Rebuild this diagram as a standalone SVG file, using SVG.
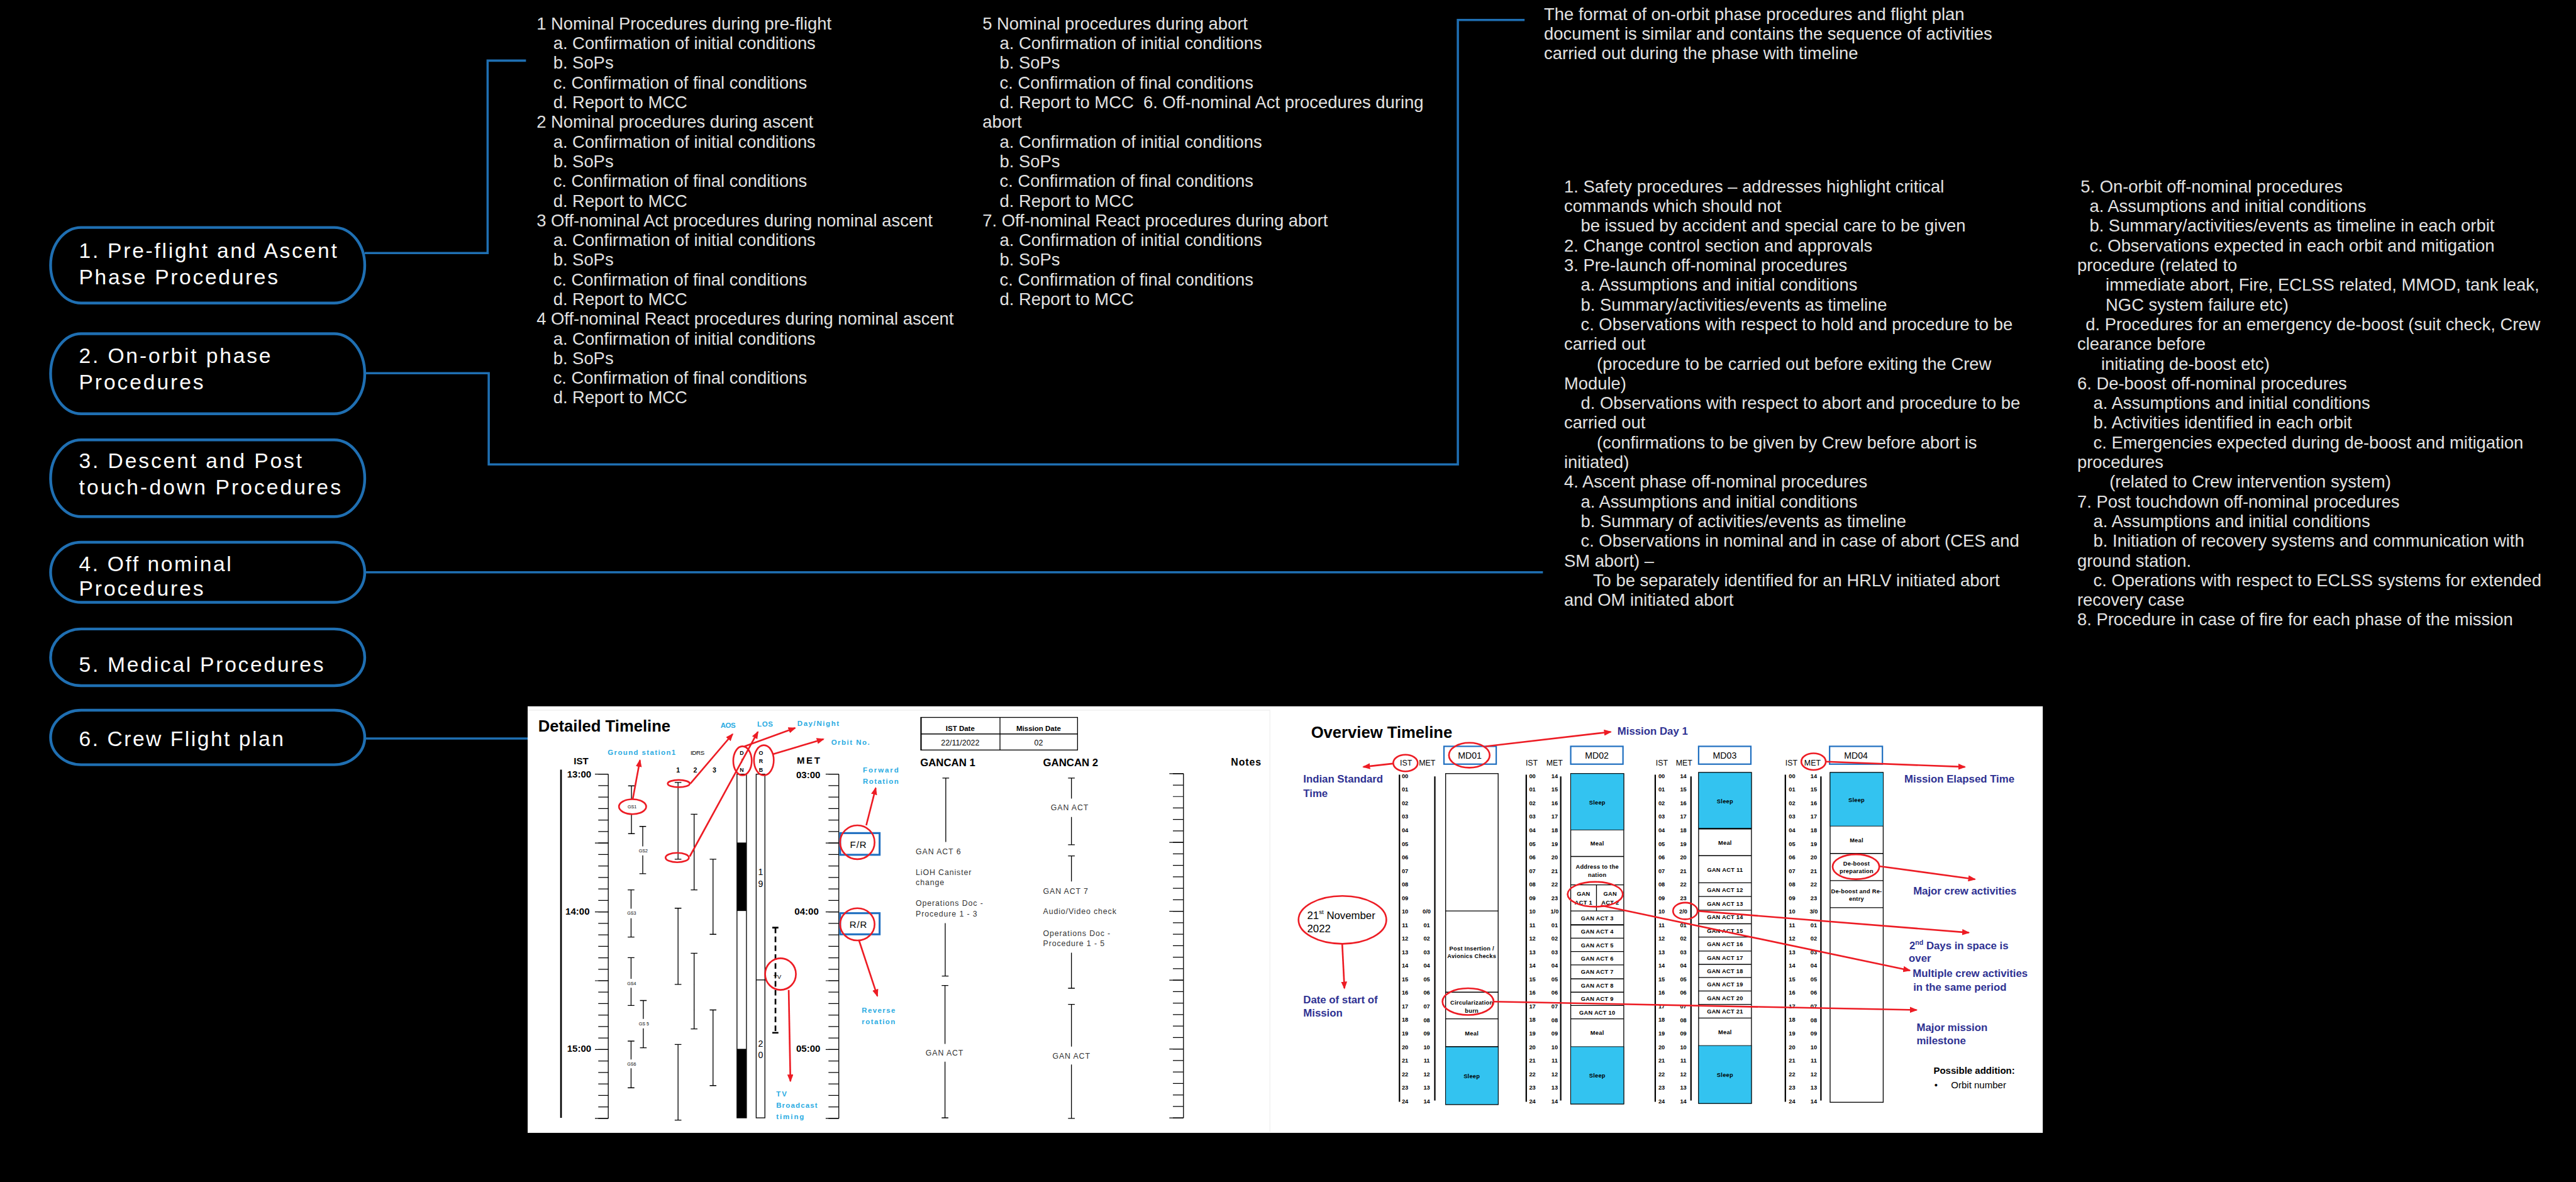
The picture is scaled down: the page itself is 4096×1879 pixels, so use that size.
<svg xmlns="http://www.w3.org/2000/svg" xmlns:xlink="http://www.w3.org/1999/xlink" width="4096" height="1879" viewBox="0 0 4096 1879">
<style>
.box{fill:none;stroke:#1f6fb2;stroke-width:5}
.bl{font-family:"Liberation Sans",Arial,sans-serif;font-size:38px;fill:#ffffff}
.conn{fill:none;stroke:#1f6fb2;stroke-width:4}
.tx{font-family:"Liberation Sans",Arial,sans-serif;font-size:31px;fill:#e2e2e2}
.k{fill:none;stroke:#000;stroke-width:1.5}
.r{fill:none;stroke:#ed1c24;stroke-width:3}
.ra{fill:none;stroke:#ed1c24;stroke-width:3;marker-end:url(#ah)}
.lb{font-family:"Liberation Sans",Arial,sans-serif;font-weight:bold;font-size:13px;fill:#29abe2}
.nv{font-family:"Liberation Sans",Arial,sans-serif;font-weight:bold;font-size:19px;fill:#2e3192}
.hb{font-family:"Liberation Sans",Arial,sans-serif;font-weight:bold;fill:#000}
.hn{font-family:"Liberation Sans",Arial,sans-serif;fill:#000}
.gt{font-family:"Liberation Sans",Arial,sans-serif;font-size:14px;fill:#333;letter-spacing:1px}
.hr{font-family:"Liberation Sans",Arial,sans-serif;font-weight:bold;font-size:10.5px;text-anchor:middle;fill:#000}
.cell{font-family:"Liberation Sans",Arial,sans-serif;font-weight:bold;font-size:10.5px;text-anchor:middle;letter-spacing:0.3px;fill:#000}
.sl{fill:#33c3f0;stroke:#000;stroke-width:1}
.col{fill:#fff;stroke:#000;stroke-width:1.5}
.mdh{fill:#fff;stroke:#1f6fc0;stroke-width:2.5}
.ax{stroke:#000;stroke-width:2.5}
</style>
<defs>
<marker id="ah" viewBox="0 0 14 11" refX="12" refY="5.5" markerWidth="14" markerHeight="11" markerUnits="userSpaceOnUse" orient="auto"><path d="M0,0L14,5.5L0,11z" fill="#ed1c24"/></marker>
<text id="ist" class="hr"><tspan x="0" y="1399">00</tspan><tspan x="0" dy="24.36">01</tspan><tspan x="0" dy="24.36">02</tspan><tspan x="0" dy="24.36">03</tspan><tspan x="0" dy="24.36">04</tspan><tspan x="0" dy="24.36">05</tspan><tspan x="0" dy="24.36">06</tspan><tspan x="0" dy="24.36">07</tspan><tspan x="0" dy="24.36">08</tspan><tspan x="0" dy="24.36">09</tspan><tspan x="0" dy="24.36">10</tspan><tspan x="0" dy="24.36">11</tspan><tspan x="0" dy="24.36">12</tspan><tspan x="0" dy="24.36">13</tspan><tspan x="0" dy="24.36">14</tspan><tspan x="0" dy="24.36">15</tspan><tspan x="0" dy="24.36">16</tspan><tspan x="0" dy="24.36">17</tspan><tspan x="0" dy="24.36">18</tspan><tspan x="0" dy="24.36">19</tspan><tspan x="0" dy="24.36">20</tspan><tspan x="0" dy="24.36">21</tspan><tspan x="0" dy="24.36">22</tspan><tspan x="0" dy="24.36">23</tspan><tspan x="0" dy="24.36">24</tspan></text>
<text id="metTop" class="hr"><tspan x="0" y="1399">14</tspan><tspan x="0" dy="24.36">15</tspan><tspan x="0" dy="24.36">16</tspan><tspan x="0" dy="24.36">17</tspan><tspan x="0" dy="24.36">18</tspan><tspan x="0" dy="24.36">19</tspan><tspan x="0" dy="24.36">20</tspan><tspan x="0" dy="24.36">21</tspan><tspan x="0" dy="24.36">22</tspan><tspan x="0" dy="24.36">23</tspan></text>
<text id="metBot" class="hr"><tspan x="0" y="1667">01</tspan><tspan x="0" dy="24.36">02</tspan><tspan x="0" dy="24.36">03</tspan><tspan x="0" dy="24.36">04</tspan><tspan x="0" dy="24.36">05</tspan><tspan x="0" dy="24.36">06</tspan><tspan x="0" dy="24.36">07</tspan><tspan x="0" dy="24.36">08</tspan><tspan x="0" dy="24.36">09</tspan><tspan x="0" dy="24.36">10</tspan><tspan x="0" dy="24.36">11</tspan><tspan x="0" dy="24.36">12</tspan><tspan x="0" dy="24.36">13</tspan><tspan x="0" dy="24.36">14</tspan></text>
</defs>
<rect x="0" y="0" width="4096" height="1879" fill="#000"/>
<g transform="scale(0.88409)">

<!-- connectors -->
<g id="connectors">
<path class="conn" d="M656 455H877V109H946"/>
<path class="conn" d="M656 671H879V835H2622V36H2742"/>
<path class="conn" d="M656 1029H2775"/>
<path class="conn" d="M656 1328H949"/>
</g>

<!-- nodes -->
<g id="node-1">
<rect class="box" x="91" y="409" width="565" height="136" rx="55" ry="68"/>
<text class="bl" x="142" y="464" textLength="464" lengthAdjust="spacing">1. Pre-flight and Ascent</text>
<text class="bl" x="142" y="511" textLength="358" lengthAdjust="spacing">Phase Procedures</text>
</g>
<g id="node-2">
<rect class="box" x="91" y="600" width="565" height="144" rx="55" ry="72"/>
<text class="bl" x="142" y="653" textLength="345" lengthAdjust="spacing">2. On-orbit phase</text>
<text class="bl" x="142" y="700" textLength="224" lengthAdjust="spacing">Procedures</text>
</g>
<g id="node-3">
<rect class="box" x="91" y="791" width="565" height="138" rx="55" ry="69"/>
<text class="bl" x="142" y="842" textLength="401" lengthAdjust="spacing">3. Descent and Post</text>
<text class="bl" x="142" y="889" textLength="471" lengthAdjust="spacing">touch-down Procedures</text>
</g>
<g id="node-4">
<rect class="box" x="91" y="975" width="565" height="108" rx="55" ry="54"/>
<text class="bl" x="142" y="1027" textLength="274" lengthAdjust="spacing">4. Off nominal</text>
<text class="bl" x="142" y="1071" textLength="224" lengthAdjust="spacing">Procedures</text>
</g>
<g id="node-5">
<rect class="box" x="91" y="1131" width="565" height="102" rx="55" ry="51"/>
<text class="bl" x="142" y="1208" textLength="440" lengthAdjust="spacing">5. Medical Procedures</text>
</g>
<g id="node-6">
<rect class="box" x="91" y="1277" width="565" height="98" rx="55" ry="49"/>
<text class="bl" x="142" y="1341" textLength="368" lengthAdjust="spacing">6. Crew Flight plan</text>
</g>

<g id="text-ascent-1">
<text class="tx"><tspan x="965" y="53">1 Nominal Procedures during pre-flight</tspan><tspan x="995" dy="35.4">a. Confirmation of initial conditions</tspan><tspan x="995" dy="35.4">b. SoPs</tspan><tspan x="995" dy="35.4">c. Confirmation of final conditions</tspan><tspan x="995" dy="35.4">d. Report to MCC</tspan><tspan x="965" dy="35.4">2 Nominal procedures during ascent</tspan><tspan x="995" dy="35.4">a. Confirmation of initial conditions</tspan><tspan x="995" dy="35.4">b. SoPs</tspan><tspan x="995" dy="35.4">c. Confirmation of final conditions</tspan><tspan x="995" dy="35.4">d. Report to MCC</tspan><tspan x="965" dy="35.4">3 Off-nominal Act procedures during nominal ascent</tspan><tspan x="995" dy="35.4">a. Confirmation of initial conditions</tspan><tspan x="995" dy="35.4">b. SoPs</tspan><tspan x="995" dy="35.4">c. Confirmation of final conditions</tspan><tspan x="995" dy="35.4">d. Report to MCC</tspan><tspan x="965" dy="35.4">4 Off-nominal React procedures during nominal ascent</tspan><tspan x="995" dy="35.4">a. Confirmation of initial conditions</tspan><tspan x="995" dy="35.4">b. SoPs</tspan><tspan x="995" dy="35.4">c. Confirmation of final conditions</tspan><tspan x="995" dy="35.4">d. Report to MCC</tspan></text>
</g>
<g id="text-ascent-2">
<text class="tx"><tspan x="1767" y="53">5 Nominal procedures during abort</tspan><tspan x="1798" dy="35.4">a. Confirmation of initial conditions</tspan><tspan x="1798" dy="35.4">b. SoPs</tspan><tspan x="1798" dy="35.4">c. Confirmation of final conditions</tspan><tspan x="1798" dy="35.4">d. Report to MCC&#160; 6. Off-nominal Act procedures during</tspan><tspan x="1767" dy="35.4">abort</tspan><tspan x="1798" dy="35.4">a. Confirmation of initial conditions</tspan><tspan x="1798" dy="35.4">b. SoPs</tspan><tspan x="1798" dy="35.4">c. Confirmation of final conditions</tspan><tspan x="1798" dy="35.4">d. Report to MCC</tspan><tspan x="1767" dy="35.4">7. Off-nominal React procedures during abort</tspan><tspan x="1798" dy="35.4">a. Confirmation of initial conditions</tspan><tspan x="1798" dy="35.4">b. SoPs</tspan><tspan x="1798" dy="35.4">c. Confirmation of final conditions</tspan><tspan x="1798" dy="35.4">d. Report to MCC</tspan></text>
</g>
<g id="text-onorbit">
<text class="tx"><tspan x="2777" y="36">The format of on-orbit phase procedures and flight plan</tspan><tspan x="2777" dy="35.4">document is similar and contains the sequence of activities</tspan><tspan x="2777" dy="35.4">carried out during the phase with timeline</tspan></text>
</g>
<g id="text-offnominal-1">
<text class="tx"><tspan x="2813" y="346">1. Safety procedures – addresses highlight critical</tspan><tspan x="2813" dy="35.4">commands which should not</tspan><tspan x="2843" dy="35.4">be issued by accident and special care to be given</tspan><tspan x="2813" dy="35.4">2. Change control section and approvals</tspan><tspan x="2813" dy="35.4">3. Pre-launch off-nominal procedures</tspan><tspan x="2843" dy="35.4">a. Assumptions and initial conditions</tspan><tspan x="2843" dy="35.4">b. Summary/activities/events as timeline</tspan><tspan x="2843" dy="35.4">c. Observations with respect to hold and procedure to be</tspan><tspan x="2813" dy="35.4">carried out</tspan><tspan x="2872" dy="35.4">(procedure to be carried out before exiting the Crew</tspan><tspan x="2813" dy="35.4">Module)</tspan><tspan x="2843" dy="35.4">d. Observations with respect to abort and procedure to be</tspan><tspan x="2813" dy="35.4">carried out</tspan><tspan x="2872" dy="35.4">(confirmations to be given by Crew before abort is</tspan><tspan x="2813" dy="35.4">initiated)</tspan><tspan x="2813" dy="35.4">4. Ascent phase off-nominal procedures</tspan><tspan x="2843" dy="35.4">a. Assumptions and initial conditions</tspan><tspan x="2843" dy="35.4">b. Summary of activities/events as timeline</tspan><tspan x="2843" dy="35.4">c. Observations in nominal and in case of abort (CES and</tspan><tspan x="2813" dy="35.4">SM abort) –</tspan><tspan x="2865" dy="35.4">To be separately identified for an HRLV initiated abort</tspan><tspan x="2813" dy="35.4">and OM initiated abort</tspan></text>
</g>
<g id="text-offnominal-2">
<text class="tx"><tspan x="3742" y="346">5. On-orbit off-nominal procedures</tspan><tspan x="3758" dy="35.4">a. Assumptions and initial conditions</tspan><tspan x="3758" dy="35.4">b. Summary/activities/events as timeline in each orbit</tspan><tspan x="3758" dy="35.4">c. Observations expected in each orbit and mitigation</tspan><tspan x="3736" dy="35.4">procedure (related to</tspan><tspan x="3787" dy="35.4">immediate abort, Fire, ECLSS related, MMOD, tank leak,</tspan><tspan x="3787" dy="35.4">NGC system failure etc)</tspan><tspan x="3751" dy="35.4">d. Procedures for an emergency de-boost (suit check, Crew</tspan><tspan x="3736" dy="35.4">clearance before</tspan><tspan x="3779" dy="35.4">initiating de-boost etc)</tspan><tspan x="3736" dy="35.4">6. De-boost off-nominal procedures</tspan><tspan x="3765" dy="35.4">a. Assumptions and initial conditions</tspan><tspan x="3765" dy="35.4">b. Activities identified in each orbit</tspan><tspan x="3765" dy="35.4">c. Emergencies expected during de-boost and mitigation</tspan><tspan x="3736" dy="35.4">procedures</tspan><tspan x="3794" dy="35.4">(related to Crew intervention system)</tspan><tspan x="3736" dy="35.4">7. Post touchdown off-nominal procedures</tspan><tspan x="3765" dy="35.4">a. Assumptions and initial conditions</tspan><tspan x="3765" dy="35.4">b. Initiation of recovery systems and communication with</tspan><tspan x="3736" dy="35.4">ground station.</tspan><tspan x="3765" dy="35.4">c. Operations with respect to ECLSS systems for extended</tspan><tspan x="3736" dy="35.4">recovery case</tspan><tspan x="3736" dy="35.4">8. Procedure in case of fire for each phase of the mission</tspan></text>
</g>

<!-- flight plan picture -->
<g id="flight-plan">
<rect x="949" y="1270" width="2725" height="767" fill="#fff"/>
<path d="M949 1277H2284V2037" fill="none" stroke="#f0f0f0" stroke-width="1.5"/>

<!-- detailed timeline -->
<text class="hb" x="968" y="1315" font-size="29">Detailed Timeline</text>
<text class="hb" x="1032" y="1374" font-size="17">IST</text>
<text class="hb" x="1433" y="1373" font-size="17" textLength="42">MET</text>
<text class="hb" font-size="17"><tspan x="1020" y="1398">13:00</tspan><tspan x="1017" y="1645">14:00</tspan><tspan x="1020" y="1891">15:00</tspan><tspan x="1432" y="1399">03:00</tspan><tspan x="1429" y="1645">04:00</tspan><tspan x="1432" y="1891">05:00</tspan></text>
<line x1="1009" y1="1384" x2="1009" y2="2010" stroke="#000" stroke-width="3"/>
<line x1="1094" y1="1392" x2="1094" y2="2011" class="k"/>
<line x1="1085" y1="1391.3" x2="1085" y2="2012" stroke="#000" stroke-width="18" stroke-dasharray="1.4 19.233"/>
<line x1="1082" y1="1391.3" x2="1082" y2="2012" stroke="#000" stroke-width="24" stroke-dasharray="1.4 122.4"/>
<line x1="1508.6" y1="1392" x2="1508.6" y2="2011" class="k"/>
<line x1="1499.3" y1="1391.3" x2="1499.3" y2="2012" stroke="#000" stroke-width="18.6" stroke-dasharray="1.4 19.233"/>
<line x1="1496.8" y1="1391.3" x2="1496.8" y2="2012" stroke="#000" stroke-width="23.6" stroke-dasharray="1.4 122.4"/>
<line x1="2128.5" y1="1391" x2="2128.5" y2="2010" class="k"/>
<line x1="2119" y1="1390.3" x2="2119" y2="2011" stroke="#000" stroke-width="19" stroke-dasharray="1.4 19.233"/>
<line x1="2115.8" y1="1390.3" x2="2115.8" y2="2011" stroke="#000" stroke-width="25.5" stroke-dasharray="1.4 122.4"/>

<text class="hn" x="1242" y="1357" font-size="11" textLength="25">IDRS</text>
<text class="hb" font-size="12" text-anchor="middle"><tspan x="1219.5" y="1389">1</tspan><tspan x="1250.4" y="1389">2</tspan><tspan x="1284.8" y="1389">3</tspan></text>
<path class="k" d="M1129.7 1413h12M1135.7 1413V1437M1135.7 1464V1499M1129.7 1499h12M1150 1486h12M1156 1486V1522M1156 1538V1571M1150 1571h12M1129 1600h12M1135 1600V1634M1135 1651V1685M1129 1685h12M1129 1722h12M1135 1722V1760M1135 1776V1808M1129 1808h12M1151 1799h12M1157 1799V1832M1157 1849V1884M1151 1884h12M1129 1872h12M1135 1872V1905M1135 1921V1956M1129 1956h12"/>
<text class="hn" font-size="8" text-anchor="middle"><tspan x="1137" y="1453.5">GS1</tspan><tspan x="1157" y="1533">GS2</tspan><tspan x="1136" y="1645">GS3</tspan><tspan x="1136" y="1771">GS4</tspan><tspan x="1158" y="1843.5">GS 5</tspan><tspan x="1136" y="1916">GS6</tspan></text>
<path class="k" d="M1213.5 1407h12M1219.5 1407V1545M1213.5 1545h12M1213.5 1633h12M1219.5 1633V1770M1213.5 1770h12M1213.5 1878h12M1219.5 1878V2014M1213.5 2014h12M1242.4 1464h12M1248.4 1464V1600M1242.4 1600h12M1242.4 1714h12M1248.4 1714V1850M1242.4 1850h12M1276.4 1545h12M1282.4 1545V1680M1276.4 1680h12M1276.4 1816h12M1282.4 1816V1952M1276.4 1952h12"/>

<rect x="1325.5" y="1392" width="17" height="618" class="col"/>
<rect x="1325.5" y="1515" width="17" height="123" fill="#000"/>
<rect x="1325.5" y="1886" width="17" height="124" fill="#000"/>
<text class="hb" font-size="10" text-anchor="middle"><tspan x="1334" y="1357">D</tspan><tspan x="1334" y="1372">/</tspan><tspan x="1334" y="1388">N</tspan><tspan x="1368.6" y="1357">O</tspan><tspan x="1368.6" y="1372">R</tspan><tspan x="1368.6" y="1388">B</tspan></text>
<rect x="1360" y="1392" width="15.7" height="618" class="col"/>
<line x1="1360" y1="1762" x2="1375.7" y2="1762" class="k"/>
<text class="hn" font-size="16" text-anchor="middle"><tspan x="1368" y="1573">1</tspan><tspan x="1368" y="1595">9</tspan><tspan x="1368" y="1882">2</tspan><tspan x="1368" y="1903">0</tspan></text>
<path d="M1389 1668h11M1389 1857h11" stroke="#000" stroke-width="3"/>
<line x1="1394.7" y1="1668" x2="1394.7" y2="1857" stroke="#000" stroke-width="3" stroke-dasharray="10 6"/>
<text class="hn" x="1398" y="1760" font-size="11" text-anchor="middle">TV</text>

<rect x="1511" y="1498" width="71" height="39" fill="none" stroke="#1f6fc0" stroke-width="3.5"/>
<rect x="1511" y="1642" width="71" height="38" fill="none" stroke="#1f6fc0" stroke-width="3.5"/>
<text class="hn" font-size="17" text-anchor="middle" letter-spacing="1"><tspan x="1544" y="1525">F/R</tspan><tspan x="1544" y="1668">R/R</tspan></text>

<text class="lb" x="1093" y="1357" textLength="122">Ground station1</text>
<text class="lb" x="1296" y="1309" textLength="27">AOS</text>
<text class="lb" x="1362" y="1307" textLength="28">LOS</text>
<text class="lb" x="1434" y="1305" textLength="75">Day/Night</text>
<text class="lb" x="1495" y="1339" textLength="69">Orbit No.</text>
<text class="lb" x="1552" y="1389" textLength="64">Forward</text>
<text class="lb" x="1552" y="1409" textLength="64">Rotation</text>
<text class="lb" x="1550" y="1821" textLength="60">Reverse</text>
<text class="lb" x="1550" y="1841" textLength="60">rotation</text>
<text class="lb" x="1396" y="1972" textLength="19">TV</text>
<text class="lb" x="1396" y="1992" textLength="74">Broadcast</text>
<text class="lb" x="1396" y="2012" textLength="50">timing</text>

<rect x="1656" y="1290" width="282" height="58.6" class="k"/>
<path class="k" d="M1798.5 1290V1348.6M1656 1319.7H1938M1657 1290V1349"/>
<text class="hb" font-size="13" text-anchor="middle"><tspan x="1727" y="1314">IST  Date</tspan><tspan x="1868" y="1314">Mission Date</tspan></text>
<text class="hn" font-size="14" text-anchor="middle" fill="#222"><tspan x="1727" y="1340">22/11/2022</tspan><tspan x="1868" y="1340">02</tspan></text>
<text class="hb" font-size="19"><tspan x="1655" y="1378">GANCAN  1</tspan><tspan x="1876" y="1378">GANCAN  2</tspan></text>
<text class="hb" x="2214" y="1377" font-size="18" letter-spacing="1">Notes</text>
<path class="k" d="M1695 1399h12M1701 1399V1514M1700 1660V1755M1694 1755h12M1693.6 1772h12M1699.6 1772V1877M1699.6 1909V2010M1693.6 2010h12M1921 1399h12M1927 1399V1436M1927 1469V1519M1921 1519h12M1921 1539h12M1927 1539V1585M1927 1713V1777M1921 1777h12M1921 1806h12M1927 1806V1882M1927 1914V2011M1921 2011h12"/>
<text class="gt"><tspan x="1647" y="1536">GAN ACT  6</tspan><tspan x="1647" y="1573">LiOH Canister</tspan><tspan x="1647" y="1592">change</tspan><tspan x="1647" y="1629">Operations Doc -</tspan><tspan x="1647" y="1648">Procedure 1 - 3</tspan><tspan x="1876" y="1607">GAN ACT  7</tspan><tspan x="1876" y="1644">Audio/Video check</tspan><tspan x="1876" y="1683">Operations Doc  -</tspan><tspan x="1876" y="1701">Procedure  1 - 5</tspan></text>
<text class="gt" text-anchor="middle"><tspan x="1699" y="1898">GAN ACT</tspan><tspan x="1924" y="1457">GAN ACT</tspan><tspan x="1927" y="1904">GAN ACT</tspan></text>

<!-- overview timeline -->
<text class="hb" x="2358" y="1327" font-size="29">Overview Timeline</text>
<text class="hn" font-size="14"><tspan x="2518" y="1377">IST</tspan><tspan x="2552" y="1377">MET</tspan><tspan x="2744" y="1377">IST</tspan><tspan x="2781" y="1377">MET</tspan><tspan x="2978" y="1377">IST</tspan><tspan x="3014" y="1377">MET</tspan><tspan x="3211" y="1377">IST</tspan><tspan x="3245" y="1377">MET</tspan></text>
<path class="ax" d="M2517 1393V1981M2580.6 1396V1979M2745 1393V1981M2807 1396V1979M2977 1393V1981M3041.3 1396V1979M3211 1393V1981M3275 1396V1979"/>
<use xlink:href="#ist" x="2527"/><use xlink:href="#metBot" x="2566"/>
<use xlink:href="#ist" x="2756"/><use xlink:href="#metTop" x="2796"/><use xlink:href="#metBot" x="2796"/>
<use xlink:href="#ist" x="2988.5"/><use xlink:href="#metTop" x="3027.5"/><use xlink:href="#metBot" x="3027.5"/>
<use xlink:href="#ist" x="3223"/><use xlink:href="#metTop" x="3262"/><use xlink:href="#metBot" x="3262"/>
<text class="hr"><tspan x="2566" y="1642.6">0/0</tspan><tspan x="2796" y="1642.6">1/0</tspan><tspan x="3027.5" y="1642.6">2/0</tspan><tspan x="3262" y="1642.6">3/0</tspan></text>

<rect class="mdh" x="2597" y="1342" width="94" height="32"/>
<rect class="mdh" x="2825" y="1342" width="94" height="32"/>
<rect class="mdh" x="3055" y="1342" width="94" height="32"/>
<rect class="mdh" x="3290.6" y="1342" width="95" height="32"/>
<text class="hn" font-size="16" text-anchor="middle"><tspan x="2643.5" y="1364">MD01</tspan><tspan x="2872" y="1364">MD02</tspan><tspan x="3102" y="1364">MD03</tspan><tspan x="3338" y="1364">MD04</tspan></text>

<!-- MD01 -->
<rect class="col" x="2600" y="1391" width="94.5" height="595"/>
<rect class="sl" x="2600" y="1882" width="94.5" height="104"/>
<path class="k" d="M2600 1638H2694.5M2600 1784H2694.5M2600 1832H2694.5M2600 1882H2694.5"/>
<text class="cell"><tspan x="2647" y="1709">Post Insertion /</tspan><tspan x="2647" y="1723">Avionics Checks</tspan><tspan x="2647" y="1806">Circularization</tspan><tspan x="2647" y="1821">burn</tspan><tspan x="2647" y="1862">Meal</tspan><tspan x="2647" y="1939">Sleep</tspan></text>

<!-- MD02 -->
<rect class="col" x="2825" y="1391" width="95.4" height="594"/>
<rect class="sl" x="2825" y="1391" width="95.4" height="101.3"/>
<rect class="sl" x="2825" y="1882" width="95.4" height="103"/>
<path class="k" d="M2825 1540H2920.4M2825 1591H2920.4M2825 1638H2920.4M2825 1687H2920.4M2825 1711H2920.4M2825 1735H2920.4M2825 1760H2920.4M2825 1784H2920.4M2825 1808H2920.4M2825 1832H2920.4M2871.3 1591V1638"/>
<line x1="2825" y1="1663" x2="2920.4" y2="1663" stroke="#000" stroke-width="2.5"/>
<text class="cell"><tspan x="2872.7" y="1446.6">Sleep</tspan><tspan x="2872.7" y="1520">Meal</tspan><tspan x="2872.7" y="1562">Address to the</tspan><tspan x="2872.7" y="1577">nation</tspan><tspan x="2848" y="1611">GAN</tspan><tspan x="2848" y="1626">ACT 1</tspan><tspan x="2896" y="1611">GAN</tspan><tspan x="2896" y="1626">ACT 2</tspan><tspan x="2872.7" y="1654.5">GAN ACT 3</tspan><tspan x="2872.7" y="1679">GAN ACT 4</tspan><tspan x="2872.7" y="1703">GAN ACT 5</tspan><tspan x="2872.7" y="1727">GAN ACT 6</tspan><tspan x="2872.7" y="1751.5">GAN ACT 7</tspan><tspan x="2872.7" y="1776">GAN ACT 8</tspan><tspan x="2872.7" y="1800">GAN ACT 9</tspan><tspan x="2872.7" y="1824">GAN ACT 10</tspan><tspan x="2872.7" y="1861">Meal</tspan><tspan x="2872.7" y="1937.5">Sleep</tspan></text>

<!-- MD03 -->
<rect class="col" x="3055" y="1389" width="95" height="595"/>
<rect class="sl" x="3055" y="1389" width="95" height="101"/>
<rect class="sl" x="3055" y="1880" width="95" height="104"/>
<line x1="3055" y1="1490" x2="3150" y2="1490" stroke="#000" stroke-width="2.5"/>
<path class="k" d="M3055 1538.6H3150M3055 1587.3H3150M3055 1612H3150M3055 1636.6H3150M3055 1661H3150M3055 1685H3150M3055 1710H3150M3055 1734H3150M3055 1757.5H3150M3055 1782H3150M3055 1806H3150M3055 1830.6H3150"/>
<text class="cell"><tspan x="3102.5" y="1444">Sleep</tspan><tspan x="3102.5" y="1519">Meal</tspan><tspan x="3102.5" y="1567.5">GAN ACT 11</tspan><tspan x="3102.5" y="1604">GAN ACT 12</tspan><tspan x="3102.5" y="1629">GAN ACT 13</tspan><tspan x="3102.5" y="1653">GAN ACT 14</tspan><tspan x="3102.5" y="1677">GAN ACT 15</tspan><tspan x="3102.5" y="1701">GAN ACT 16</tspan><tspan x="3102.5" y="1726">GAN ACT 17</tspan><tspan x="3102.5" y="1750">GAN ACT 18</tspan><tspan x="3102.5" y="1774">GAN ACT 19</tspan><tspan x="3102.5" y="1798">GAN ACT 20</tspan><tspan x="3102.5" y="1822.6">GAN ACT 21</tspan><tspan x="3102.5" y="1859.5">Meal</tspan><tspan x="3102.5" y="1936.6">Sleep</tspan></text>

<!-- MD04 -->
<rect class="col" x="3291.5" y="1389" width="95.5" height="593"/>
<rect class="sl" x="3291.5" y="1389" width="95.5" height="96.4"/>
<path class="k" d="M3291.5 1534.6H3387M3291.5 1583.4H3387M3291.5 1632H3387"/>
<text class="cell"><tspan x="3339" y="1442">Sleep</tspan><tspan x="3339" y="1514.7">Meal</tspan><tspan x="3339" y="1556">De-boost</tspan><tspan x="3339" y="1570.5">preparation</tspan><tspan x="3339" y="1606">De-boost and Re-</tspan><tspan x="3339" y="1619.7">entry</tspan></text>

<!-- overview annotations -->
<text class="nv" x="2909" y="1321" font-size="17">Mission Day 1</text>
<text class="nv"><tspan x="2344" y="1407">Indian Standard</tspan><tspan x="2344" y="1433">Time</tspan></text>
<text class="hn" font-size="19"><tspan x="2351" y="1652">21<tspan font-size="11" dy="-8">st</tspan><tspan dy="8"> November</tspan></tspan><tspan x="2351" y="1676">2022</tspan></text>
<text class="nv"><tspan x="2344" y="1804">Date of start of</tspan><tspan x="2344" y="1828">Mission</tspan></text>
<text class="nv"><tspan x="3425" y="1407">Mission Elapsed Time</tspan></text>
<text class="nv"><tspan x="3441" y="1608">Major crew activities</tspan></text>
<text class="nv"><tspan x="3434" y="1707">2<tspan font-size="12" dy="-8">nd</tspan><tspan dy="8"> Days in space is</tspan></tspan><tspan x="3433" y="1730">over</tspan></text>
<text class="nv"><tspan x="3440" y="1756.5">Multiple crew activities</tspan><tspan x="3441" y="1782">in the same period</tspan></text>
<text class="nv"><tspan x="3447" y="1853.5">Major mission</tspan><tspan x="3447" y="1878">milestone</tspan></text>
<text class="hb" x="3477.5" y="1930.6" font-size="17">Possible addition:</text>
<text class="hn" font-size="17"><tspan x="3479" y="1956.5">•</tspan><tspan x="3509" y="1956.5">Orbit number</tspan></text>
</g>

<!-- red annotation marks -->
<g id="annotations">
<ellipse class="r" cx="1137.7" cy="1450.5" rx="24.5" ry="13.4"/>
<ellipse class="r" cx="1220.7" cy="1409" rx="19.8" ry="6.5"/>
<ellipse class="r" cx="1218" cy="1542" rx="21" ry="8.5"/>
<ellipse class="r" cx="1335.4" cy="1368" rx="16.6" ry="26"/>
<ellipse class="r" cx="1373.8" cy="1367" rx="17.8" ry="27"/>
<ellipse class="r" cx="1403.8" cy="1751.5" rx="27.7" ry="28.4"/>
<ellipse class="r" cx="1542" cy="1514.5" rx="31" ry="30.5"/>
<ellipse class="r" cx="1542" cy="1662" rx="31" ry="29"/>
<path class="ra" d="M1138 1437L1151 1367"/>
<path class="ra" d="M1241.7 1409L1317.6 1320"/>
<path class="ra" d="M1240.5 1540L1363 1316"/>
<path class="ra" d="M1339 1342L1430 1309"/>
<path class="ra" d="M1390.8 1356L1481 1329"/>
<path class="ra" d="M1418.5 1780L1421.6 1944"/>
<path class="ra" d="M1558 1484L1575 1417"/>
<path class="ra" d="M1545 1691L1578 1791"/>
<ellipse class="r" cx="2527.8" cy="1372" rx="22" ry="15"/>
<ellipse class="r" cx="2642.6" cy="1358" rx="36.7" ry="22.4"/>
<ellipse class="r" cx="2414.4" cy="1654" rx="79" ry="43"/>
<ellipse class="r" cx="2640.3" cy="1801" rx="46" ry="24"/>
<ellipse class="r" cx="2869" cy="1608" rx="49.6" ry="22.4"/>
<ellipse class="r" cx="3031" cy="1638" rx="22" ry="15"/>
<ellipse class="r" cx="3261.7" cy="1369.5" rx="22" ry="15"/>
<ellipse class="r" cx="3338" cy="1558.5" rx="42" ry="22.4"/>
<path class="ra" d="M2505 1373L2452 1379"/>
<path class="ra" d="M2672 1342L2897 1316"/>
<path class="ra" d="M2414 1697L2418 1777"/>
<path class="ra" d="M2686 1801L3447 1816"/>
<path class="ra" d="M2879 1628L3435 1745"/>
<path class="ra" d="M3053 1638L3541 1677"/>
<path class="ra" d="M3284 1369.5L3534 1379"/>
<path class="ra" d="M3380 1557.5L3552 1581"/>
</g>
</g>
</svg>
